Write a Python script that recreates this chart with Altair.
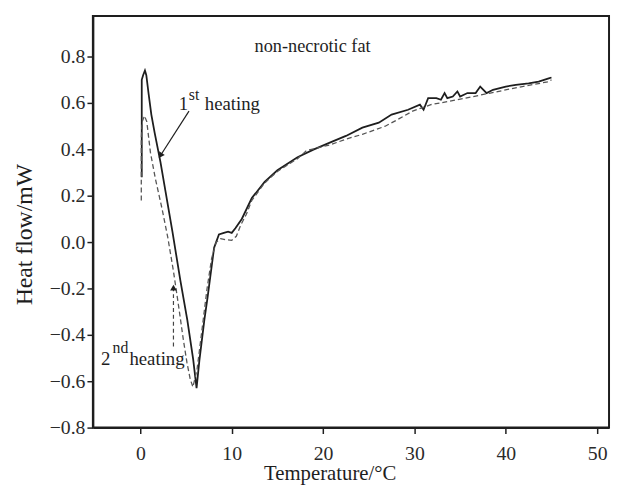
import altair as alt
import pandas as pd

# 1st heating (solid)
solid_x = [0.15, 0.15, 0.3, 0.5, 0.65, 0.9, 1.2, 1.57, 2.2, 2.76, 3.5, 4.38, 5.14, 5.78, 6.15,
           6.46, 7.0, 7.36, 8.07, 8.6, 9.14, 9.6, 10.0, 10.4, 11.1, 12.2, 13.6, 15.0, 17.2,
           19.0, 20.8, 22.5, 24.3, 26.1, 27.5, 29.3, 30.6, 31.0, 31.5, 32.4, 32.9, 33.3, 33.6,
           34.2, 34.7, 35.0, 35.8, 36.7, 37.2, 37.9, 38.6, 40.0, 41.1, 42.5, 43.6, 44.7, 45.0]
solid_y = [0.28, 0.70, 0.72, 0.74, 0.72, 0.64, 0.55, 0.47, 0.345, 0.217, 0.047, -0.166, -0.336,
           -0.506, -0.63, -0.51, -0.336, -0.237, -0.024, 0.033, 0.04, 0.045, 0.04, 0.06,
           0.10, 0.19, 0.26, 0.31, 0.366, 0.40, 0.43, 0.458, 0.494, 0.515, 0.55, 0.571, 0.593,
           0.571, 0.621, 0.621, 0.614, 0.643, 0.621, 0.628, 0.65, 0.628, 0.643, 0.643, 0.671,
           0.643, 0.657, 0.671, 0.678, 0.685, 0.692, 0.706, 0.71]

# 2nd heating (dashed)
dash_x = [0.1, 0.1, 0.2, 0.45, 0.7, 1.1, 1.64, 2.36, 3.0, 3.6, 4.2, 4.7, 5.1, 5.45, 5.75, 6.2,
          6.8, 7.3, 7.8, 8.3, 8.8, 9.3, 10.0, 10.5, 11.0, 11.6, 12.2, 13.6, 15.0, 17.2, 18.2,
          20.8, 22.5, 24.3, 26.8, 28.0, 29.8, 31.8, 34.7, 38.3, 41.8, 44.7, 45.0]
dash_y = [0.18, 0.45, 0.52, 0.545, 0.52, 0.387, 0.274, 0.146, 0.02, -0.12, -0.28, -0.42, -0.52,
          -0.59, -0.625, -0.55, -0.36, -0.2, -0.07, 0.0, 0.015, 0.011, 0.008, 0.025, 0.075,
          0.12, 0.18, 0.255, 0.305, 0.36, 0.395, 0.42, 0.444, 0.465, 0.50, 0.525, 0.565,
          0.593, 0.614, 0.643, 0.671, 0.692, 0.70]

x_ticks = [0, 10, 20, 30, 40, 50]
y_ticks = [-0.8, -0.6, -0.4, -0.2, 0.0, 0.2, 0.4, 0.6, 0.8]

# annotations
ann_text = ["non-necrotic fat", "1", "st", "heating", "2", "nd", "heating"]
ann_x = [12.5, 4.2, 5.3, 7.05, -4.3, -3.05, -1.2]
ann_y = [0.82, 0.572, 0.612, 0.572, -0.532, -0.477, -0.528]
ann_size = [18.5, 19, 16, 19, 19, 16, 19]

arrow_x = [5.32, 3.62]
arrow_y = [0.565, -0.45]
arrow_x2 = [2.08, 3.62]
arrow_y2 = [0.366, -0.187]
head_x = [2.25, 3.62]
head_y = [0.377, -0.20]
head_angle = [213, 0]

FONT = "Liberation Serif"
INK = "#1e1e1e"

df_s = pd.DataFrame({"x": solid_x, "y": solid_y, "i": range(len(solid_x))})
df_d = pd.DataFrame({"x": dash_x, "y": dash_y, "i": range(len(dash_x))})
df_t = pd.DataFrame({"x": ann_x, "y": ann_y, "t": ann_text, "s": ann_size})
df_a = pd.DataFrame({"x": arrow_x, "y": arrow_y, "x2": arrow_x2, "y2": arrow_y2})
df_h = pd.DataFrame({"x": head_x, "y": head_y, "a": head_angle})

xscale = alt.Scale(domain=[-5.2, 51.3], nice=False, zero=False)
yscale = alt.Scale(domain=[-0.8, 0.975], nice=False, zero=False)

xax = alt.Axis(values=x_ticks, title="Temperature/°C", grid=False, format="d",
               labelFont=FONT, labelFontSize=20, labelColor="#2a2a2a", labelPadding=10,
               titleFont=FONT, titleFontSize=21, titleFontWeight="normal", titleColor=INK,
               titlePadding=0, titleX=240, tickSize=6, tickColor=INK, tickWidth=1.5,
               domainColor=INK, domainWidth=2)
yax = alt.Axis(values=y_ticks, title="Heat flow/mW", grid=False, format=".1f",
               labelFont=FONT, labelFontSize=20, labelColor="#2a2a2a", labelPadding=2,
               titleFont=FONT, titleFontSize=24, titleFontWeight="normal", titleColor=INK,
               titlePadding=13, titleY=221, tickSize=6, tickColor=INK, tickWidth=1.5,
               domainColor=INK, domainWidth=2)

X = alt.X("x:Q", scale=xscale, axis=xax)
Y = alt.Y("y:Q", scale=yscale, axis=yax)

solid = alt.Chart(df_s).mark_line(color=INK, strokeWidth=1.8).encode(x=X, y=Y, order="i:Q")
dashed = alt.Chart(df_d).mark_line(color="#555", strokeWidth=1.3, strokeDash=[5, 3]).encode(
    x="x:Q", y="y:Q", order="i:Q")

texts = alt.Chart(df_t).mark_text(align="left", baseline="alphabetic", font=FONT, color=INK).encode(
    x="x:Q", y="y:Q", text="t:N", size=alt.Size("s:Q", scale=None, legend=None))

arrow1 = alt.Chart(df_a.iloc[[0]]).mark_rule(color=INK, strokeWidth=1.2).encode(
    x="x:Q", y="y:Q", x2="x2:Q", y2="y2:Q")
arrow2 = alt.Chart(df_a.iloc[[1]]).mark_rule(color="#444", strokeWidth=1.2, strokeDash=[4, 3]).encode(
    x="x:Q", y="y:Q", x2="x2:Q", y2="y2:Q")
heads = alt.Chart(df_h).mark_point(shape="triangle", filled=True, color=INK, size=45, opacity=1).encode(
    x="x:Q", y="y:Q", angle=alt.Angle("a:Q", scale=None))

chart = alt.layer(solid, dashed, arrow1, arrow2, heads, texts).properties(
    width=523, height=417,
    autosize=alt.AutoSizeParams(type="none"),
    padding={"left": 86, "top": 5, "right": 2, "bottom": 56},
).configure_view(stroke=INK, strokeWidth=2)

chart.save("out.html", embed_options={"renderer": "svg", "actions": False})
